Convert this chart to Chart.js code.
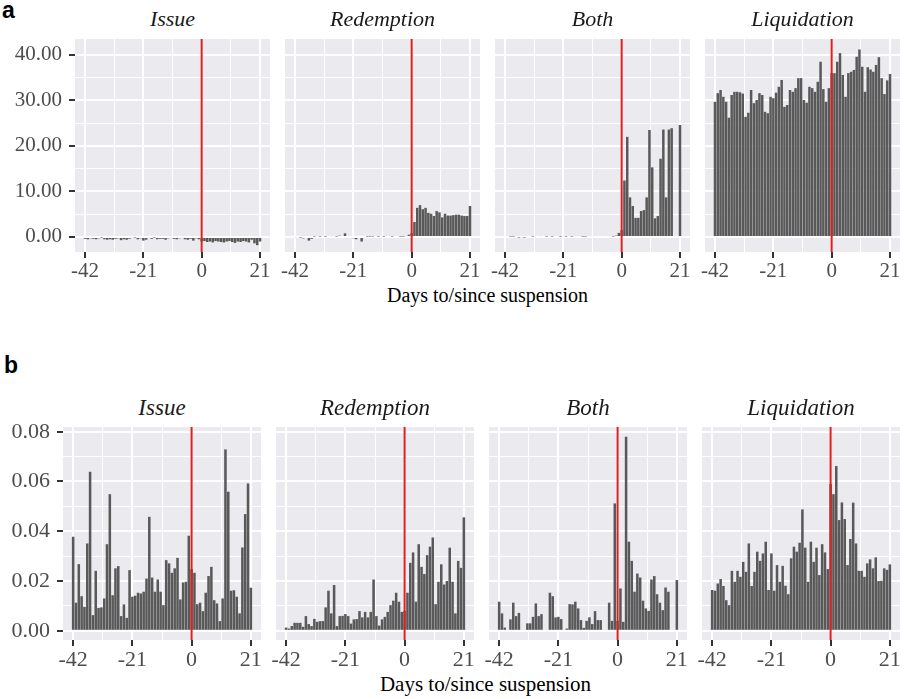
<!DOCTYPE html>
<html><head><meta charset="utf-8">
<script src="https://cdn.jsdelivr.net/npm/chart.js@4.4.1/dist/chart.umd.min.js"></script>
<style>
html,body{margin:0;padding:0;background:#fff;width:904px;height:699px;overflow:hidden;position:relative}
canvas{position:absolute}
.t{position:absolute;white-space:nowrap;line-height:1}
.strip{font-family:"Liberation Serif","Times New Roman",serif;font-style:italic;text-align:center;color:#1a1a1a}
.tag{font-family:"Liberation Sans",Arial,sans-serif;font-weight:bold;color:#000}
.xt{font-family:"Liberation Serif","Times New Roman",serif;color:#000;text-align:center}
</style></head><body>
<script>
// ---------- data ----------
const DAYS = [-42,-41,-40,-39,-38,-37,-36,-35,-34,-33,-32,-31,-30,-29,-28,-27,-26,-25,-24,-23,-22,-21,
  -20,-19,-18,-17,-16,-15,-14,-13,-12,-11,-10,-9,-8,-7,-6,-5,-4,-3,-2,-1,
  0,1,2,3,4,5,6,7,8,9,10,11,12,13,14,15,16,17,18,19,20,21];
const PANEL_NAMES = ['Issue','Redemption','Both','Liquidation'];
const X_TITLE = 'Days to/since suspension';
const ROW_TAGS = ['a','b'];
const SUSPENSION_DAY = 0;

const X_TICKS = [-42,-31.5,-21,-10.5,0,10.5,21];
const X_MAJOR = [-42,-21,0,21];
const Y_TICKS_A = [0,5,10,15,20,25,30,35,40];
const Y_MAJOR_A = [0,10,20,30,40];
const Y_TICKS_B = [0,0.01,0.02,0.03,0.04,0.05,0.06,0.07,0.08];
const Y_MAJOR_B = [0,0.02,0.04,0.06,0.08];

// row a
const A_ISSUE = [-0.4,-0.5,-0.3,-0.4,-0.5,-0.3,-0.1,-0.5,-0.6,-0.5,-0.6,-0.4,-0.3,-0.7,-0.5,-0.6,-0.4,-0.2,-0.1,-0.5,-0.3,-0.8,-0.6,-0.2,-0.4,-0.1,-0.5,-0.4,-0.4,-0.6,-0.3,-0.2,-0.4,-0.5,-0.3,-0.2,-0.5,-0.6,-0.4,-0.8,-0.3,-0.5,
  -1.0,-0.9,-1.1,-1.0,-1.2,-0.9,-1.0,-1.1,-1.2,-1.0,-0.9,-1.1,-1.3,-1.0,-1.1,-0.9,-1.0,-1.2,-0.6,-1.4,-1.8,-1.0];
const A_REDEMPTION = [-0.2,-0.2,-0.1,-0.3,0,-0.8,-0.4,0.1,0,0.1,0,0.1,0,0.2,0,0.1,0.3,0.2,0.8,0,0,-0.3,-0.5,0,-1.0,0,0.1,0.1,0.1,0,0.1,0,0.1,0,0,0.1,0,0,0.1,0.1,0.2,0.5,
  0.8,3.3,6.4,7.0,6.1,6.4,5.3,5.1,4.6,5.7,5.4,4.3,5.1,4.7,4.7,4.8,4.9,4.9,4.7,4.6,4.6,6.8];
const A_BOTH = [0,0,0.1,0.1,0,-0.1,-0.2,-0.1,0,0,0.1,0,0,0.2,0,0.1,0,0.1,0,0,0.1,0,0.1,0,0.1,0.2,0,0,0.1,0.1,0,0.2,0,0,0,0,0,0,0,0.1,0.3,0.9,
  1.5,12.4,22.0,8.7,6.8,4.2,4.2,5.7,5.9,8.7,23.5,15.3,4.1,4.6,17.2,23.6,8.7,23.6,23.9,0,0,24.6];
const A_LIQUIDATION = [29.7,31.6,32.3,30.8,29.7,26.2,31.2,31.9,31.9,31.8,31.5,26.4,27.3,32.3,29.4,30.1,31.6,31.2,27.5,27.2,30.8,30.5,31.7,33.0,34.5,28.6,29.0,32.3,31.9,32.7,34.9,34.9,30.1,29.5,33.0,32.7,31.9,34.1,38.5,32.5,29.7,32.7,
  36.0,36.0,38.5,40.4,35.6,30.8,36.0,36.3,36.7,39.6,41.2,37.4,31.9,37.3,36.8,36.3,37.8,39.5,34.9,31.4,34.4,35.8];

// row b
const B_ISSUE = [0.0378,0.0113,0.0268,0.0139,0.0096,0.0351,0.0639,0.0063,0.0241,0.0092,0.0094,0.013,0.0348,0.0549,0.0143,0.0251,0.026,0.0059,0.0106,0.0052,0.0244,0.0137,0.0141,0.0153,0.015,0.0157,0.021,0.0458,0.0214,0.0157,0.0206,0.0157,0.0103,0.0284,0.0271,0.0233,0.0251,0.0293,0.0126,0.0194,0.0197,0.0382,
  0.0248,0.0233,0.0107,0.0113,0.0079,0.0153,0.022,0.0257,0.0123,0.011,0.0039,0.013,0.0729,0.0559,0.0161,0.0163,0.0137,0.007,0.0335,0.0469,0.0592,0.0173];
const B_REDEMPTION = [0.0013,0.0009,0.0019,0.0032,0.0032,0.0032,0.0016,0.0059,0.0027,0.0019,0.0048,0.0036,0.0039,0.0039,0.0094,0.0161,0.007,0.0184,0.0019,0.0059,0.006,0.0067,0.0059,0.0029,0.0046,0.0047,0.0079,0.0054,0.0076,0.0054,0.0076,0.0206,0.0059,0.0021,0.0046,0.0056,0.0076,0.0103,0.0121,0.0153,0.0117,0.0076,
  0.008,0.0153,0.0273,0.0315,0.0117,0.0348,0.0257,0.0228,0.0304,0.0338,0.0375,0.0107,0.0197,0.0267,0.0186,0.02,0.0334,0.0197,0.007,0.0281,0.0253,0.0456];
const B_BOTH = [0.0117,0.007,0.0013,0,0.0046,0.0113,0.0059,0.0072,0,0,0.003,0.003,0.0056,0.011,0.0059,0.0067,0,0,0.0153,0.0139,0.0054,0.0056,0.0047,0,0.0009,0.0107,0.0106,0.0117,0.009,0.0043,0.0012,0.004,0.0054,0.0027,0.0079,0.0043,0.0043,0,0,0.0113,0.004,0.0512,
  0.004,0.017,0.0036,0.078,0.0358,0.0281,0.0157,0.023,0.0214,0.0121,0.009,0.008,0.0206,0.022,0.0147,0.0113,0.0083,0.0174,0.0157,0,0,0.0204];
const B_LIQUIDATION = [0.0164,0.0161,0.019,0.0208,0.018,0.0123,0.0103,0.0241,0.0197,0.0241,0.0217,0.0277,0.0237,0.0351,0.018,0.0237,0.0318,0.0281,0.0311,0.0358,0.0164,0.0311,0.0161,0.0264,0.0197,0.0261,0.0181,0.0147,0.0291,0.0338,0.0318,0.0354,0.0488,0.0334,0.0197,0.0358,0.0277,0.0334,0.0224,0.0348,0.0315,0.0248,
  0.059,0.0549,0.0662,0.0445,0.0516,0.0449,0.0264,0.0369,0.0515,0.0351,0.0241,0.0241,0.0217,0.0271,0.0287,0.0251,0.0295,0.02,0.0201,0.0251,0.0245,0.0267];

// ---------- style / layout ----------
const PANEL_BG = '#EBEAEF';
const BAR_COLOR = '#595959';
const VLINE_COLOR = '#E01F1F';
const TICK_TEXT = '#4D4D4D';
const TICK_MARK = '#333333';
const SERIF = '"Liberation Serif","Times New Roman",serif';

const ROWS = [
  { series:[A_ISSUE,A_REDEMPTION,A_BOTH,A_LIQUIDATION], top:39, h:213, lefts:[75,285,495,705], w:195,
    yMin:-3.3, yMax:43.5, yTicks:Y_TICKS_A, yMajor:Y_MAJOR_A, tickFont:21, xPad:2.5,
    stripFont:22, stripBase:26.5, titleFont:20, titleBase:302, titleShift:0, tagLeft:2, tagBase:18 },
  { series:[B_ISSUE,B_REDEMPTION,B_BOTH,B_LIQUIDATION], top:427, h:213, lefts:[63,276,489,702], w:198,
    yMin:-0.0037, yMax:0.0819, yTicks:Y_TICKS_B, yMajor:Y_MAJOR_B, tickFont:22, xPad:3,
    stripFont:23, stripBase:415, titleFont:21, titleBase:692, titleShift:4, tagLeft:4, tagBase:373 }
];
const X_MIN = -45.6, X_MAX = 24.6;
const HX = 48, SIDE = 18, TOPPAD = 16, TICK_LEN = 6;

const isIn = (arr, v) => arr.some(m => Math.abs(m - v) < 1e-9);

const panelBg = { id:'panelBg', beforeDraw(c){ const a=c.chartArea, x=c.ctx; x.save(); x.fillStyle=PANEL_BG; x.fillRect(a.left,a.top,a.right-a.left,a.bottom-a.top); x.restore(); } };
const vline = { id:'vline', afterDatasetsDraw(c){ const a=c.chartArea, x=c.ctx; const px=c.scales.x.getPixelForValue(SUSPENSION_DAY);
  x.save(); x.strokeStyle=VLINE_COLOR; x.lineWidth=2; x.beginPath(); x.moveTo(px,a.top); x.lineTo(px,a.bottom); x.stroke(); x.restore(); } };

function addText(cls, text, style){ const d=document.createElement('div'); d.className='t '+cls; d.textContent=text; Object.assign(d.style, style); document.body.appendChild(d); return d; }

ROWS.forEach((row, r) => {
  addText('tag', ROW_TAGS[r], { left: row.tagLeft+'px', top: (row.tagBase - 0.8465*23)+'px', fontSize:'23px' });
  const areaL = row.lefts[0] + row.titleShift, areaR = row.lefts[3] + row.w + row.titleShift;
  addText('xt', X_TITLE, { left: areaL+'px', width:(areaR-areaL)+'px', top:(row.titleBase - 0.8375*row.titleFont)+'px', fontSize: row.titleFont+'px' });
  row.series.forEach((vals, i) => {
    const first = i === 0;
    const pl = row.lefts[i];
    addText('strip', PANEL_NAMES[i], { left: pl+'px', width: row.w+'px', top:(row.stripBase - 0.8375*row.stripFont)+'px', fontSize: row.stripFont+'px' });
    const L = first ? 0 : SIDE, WY = first ? pl : 0;
    const cw = L + WY + row.w + SIDE, ch = TOPPAD + row.h + HX;
    const cv = document.createElement('canvas');
    cv.width = cw; cv.height = ch;
    cv.style.left = (first ? 0 : pl - SIDE) + 'px'; cv.style.top = (row.top - TOPPAD) + 'px';
    cv.style.width = cw+'px'; cv.style.height = ch+'px';
    document.body.appendChild(cv);
    new Chart(cv, {
      type:'bar',
      data:{ datasets:[{ data: DAYS.map((d,k)=>({x:d, y:vals[k]})), backgroundColor:BAR_COLOR, borderWidth:0,
        barPercentage:0.9, categoryPercentage:1.0 }] },
      options:{
        responsive:false, animation:false, devicePixelRatio:1, events:[],
        layout:{ padding:{ left:L, right:SIDE, top:TOPPAD, bottom:0 } },
        plugins:{ legend:{display:false}, tooltip:{enabled:false}, title:{display:false} },
        scales:{
          x:{ type:'linear', min:X_MIN, max:X_MAX, offset:false,
            afterBuildTicks:s=>{ s.ticks = X_TICKS.map(v=>({value:v})); },
            afterFit:s=>{ s.height = HX; s.paddingLeft=0; s.paddingRight=0; s.paddingTop=0; s.paddingBottom=0; },
            border:{display:false},
            grid:{ offset:false, color:'#FFFFFF', drawTicks:true, tickLength:TICK_LEN, tickWidth:2,
              lineWidth:c=> (c.tick && isIn(X_MAJOR,c.tick.value)) ? 2 : 1,
              tickColor:c=> (c.tick && isIn(X_MAJOR,c.tick.value)) ? TICK_MARK : 'rgba(0,0,0,0)' },
            ticks:{ autoSkip:false, maxRotation:0, minRotation:0, padding:row.xPad, color:TICK_TEXT,
              font:{ family:SERIF, size:row.tickFont, lineHeight:1 },
              callback:v=> isIn(X_MAJOR,v) ? String(v) : '' } },
          y:{ type:'linear', min:row.yMin, max:row.yMax,
            afterBuildTicks:s=>{ s.ticks = row.yTicks.map(v=>({value:v})); },
            afterFit:s=>{ s.width = WY; s.paddingTop=0; s.paddingBottom=0; s.paddingLeft=0; s.paddingRight=0; },
            border:{display:false},
            grid:{ color:'#FFFFFF', drawTicks:first, tickLength:TICK_LEN, tickWidth:2,
              lineWidth:c=> (c.tick && isIn(row.yMajor,c.tick.value)) ? 2 : 1,
              tickColor:c=> (c.tick && isIn(row.yMajor,c.tick.value)) ? TICK_MARK : 'rgba(0,0,0,0)' },
            ticks:{ display:first, padding:7, color:TICK_TEXT, font:{ family:SERIF, size:row.tickFont, lineHeight:1 },
              callback:v=> isIn(row.yMajor,v) ? v.toFixed(2) : '' } }
        }
      },
      plugins:[panelBg, vline]
    });
  });
});
</script>
</body></html>
